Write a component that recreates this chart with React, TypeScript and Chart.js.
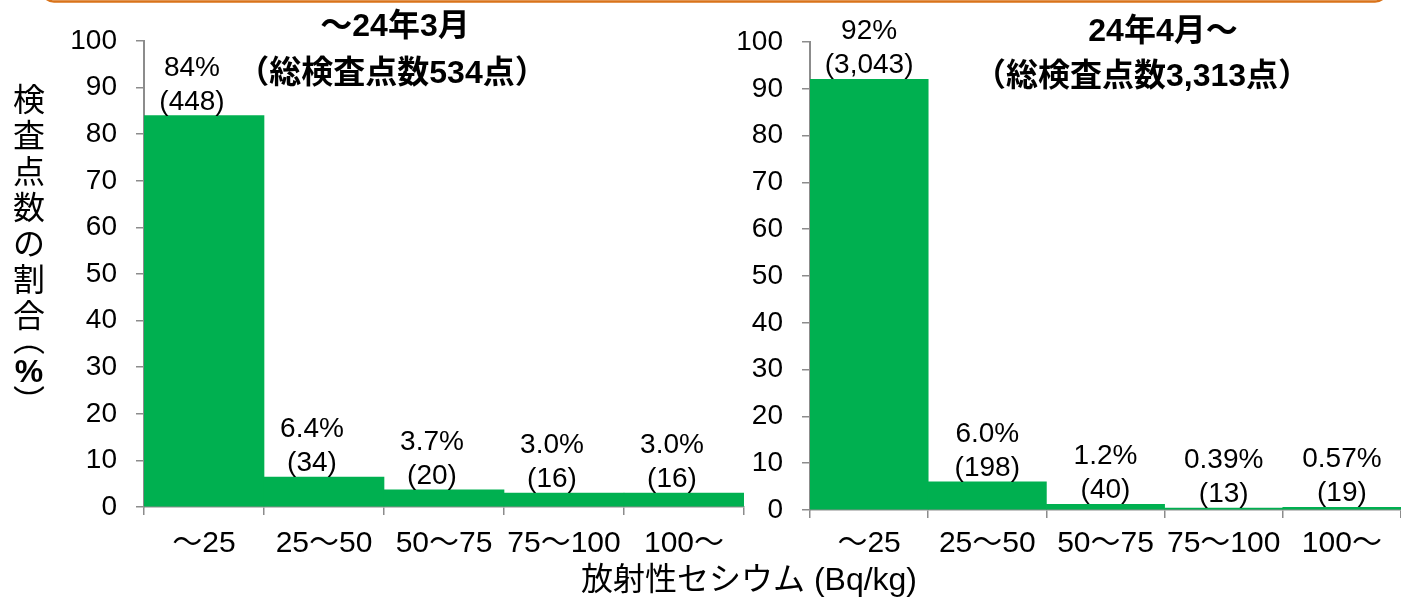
import React, { useEffect, useRef } from "react";
import { Chart, registerables } from "chart.js";

Chart.register(...registerables);

// ---- data ----
const categories = ["～25", "25～50", "50～75", "75～100", "100～"];

const beforePct = [84, 6.4, 3.7, 3.0, 3.0];
const beforeCounts = [448, 34, 20, 16, 16];
const beforeTitle = ["～24年3月", "（総検査点数534点）"];

const afterPct = [92, 6.0, 1.2, 0.39, 0.57];
const afterCounts = [3043, 198, 40, 13, 19];
const afterTitle = ["24年4月～", "（総検査点数3,313点）"];

const yAxisChars = ["検", "査", "点", "数", "の", "割", "合", "︵", "%", "︶"];
const xAxisTitle = "放射性セシウム (Bq/kg)";

// ---- styles ----
const FONT = "'Liberation Sans', 'Noto Sans CJK JP', sans-serif";
const GREEN = "#00B050";
const AXIS_GREY = "#8C8C8C";
const FRAME_ORANGE = "#D9731A";
const W = 1401;
const H = 598;

type TextItem = { text: string; x: number; y: number; font: string };

function textPlugin(id: string, items: TextItem[], frame: boolean) {
  return {
    id,
    afterDraw(chart: any) {
      const ctx: CanvasRenderingContext2D = chart.ctx;
      ctx.save();
      ctx.fillStyle = "#000";
      ctx.textAlign = "center";
      ctx.textBaseline = "middle";
      for (const it of items) {
        ctx.font = it.font;
        ctx.fillText(it.text, it.x, it.y);
      }
      if (frame) {
        ctx.strokeStyle = FRAME_ORANGE;
        ctx.lineWidth = 2.5;
        ctx.beginPath();
        ctx.roundRect(42, -40, 1345, 41.5, 12);
        ctx.stroke();
      }
      ctx.restore();
    },
  };
}

function barLabelPlugin(counts: number[], dx: number) {
  return {
    id: "barLabels",
    afterDatasetsDraw(chart: any) {
      const ctx: CanvasRenderingContext2D = chart.ctx;
      const meta = chart.getDatasetMeta(0);
      const values = chart.data.datasets[0].data as number[];
      ctx.save();
      ctx.font = `28px ${FONT}`;
      ctx.fillStyle = "#000";
      ctx.textAlign = "center";
      ctx.textBaseline = "alphabetic";
      meta.data.forEach((bar: any, i: number) => {
        const x = bar.x + dx;
        const base = bar.y - 6;
        ctx.fillText(`(${counts[i].toLocaleString("en-US")})`, x, base);
        ctx.fillText(`${values[i].toPrecision(2)}%`, x, base - 34);
      });
      ctx.restore();
    },
  };
}

type PanelLayout = {
  padLeft: number;
  padRight: number;
  padTop: number;
  yWidth: number;
  xHeight: number;
  xTickPad: number;
};

function makeConfig(
  values: number[],
  layout: PanelLayout,
  plugins: any[]
): any {
  return {
    type: "bar",
    data: {
      labels: categories,
      datasets: [
        {
          data: values,
          backgroundColor: GREEN,
          borderWidth: 0,
          barPercentage: 1,
          categoryPercentage: 1,
        },
      ],
    },
    options: {
      responsive: false,
      animation: false,
      devicePixelRatio: 1,
      layout: {
        padding: {
          left: layout.padLeft,
          right: layout.padRight,
          top: layout.padTop,
          bottom: 0,
        },
      },
      plugins: {
        legend: { display: false },
        title: { display: false },
        tooltip: { enabled: false },
      },
      scales: {
        x: {
          type: "category",
          offset: true,
          grid: {
            offset: true,
            drawOnChartArea: false,
            drawTicks: true,
            tickLength: 8,
            color: AXIS_GREY,
            lineWidth: 1.5,
          },
          border: { color: AXIS_GREY, width: 1.5 },
          ticks: {
            color: "#000",
            font: { family: FONT, size: 30 },
            padding: layout.xTickPad,
            maxRotation: 0,
            autoSkip: false,
          },
          afterFit: (scale: any) => {
            scale.height = layout.xHeight;
          },
        },
        y: {
          min: 0,
          max: 100,
          grid: {
            drawOnChartArea: false,
            drawTicks: true,
            tickLength: 8,
            color: AXIS_GREY,
            lineWidth: 1.5,
          },
          border: { color: AXIS_GREY, width: 2 },
          ticks: {
            stepSize: 10,
            color: "#000",
            font: { family: FONT, size: 28 },
            padding: 19,
          },
          afterFit: (scale: any) => {
            scale.width = layout.yWidth;
          },
        },
      },
    },
    plugins,
  };
}

export default function App() {
  const leftRef = useRef<HTMLCanvasElement>(null);
  const rightRef = useRef<HTMLCanvasElement>(null);

  useEffect(() => {
    const titleFont = `bold 32px ${FONT}`;
    const charFont = `32px ${FONT}`;

    // vertical y-axis caption, one glyph per row
    const charY = [102, 138, 174, 210, 246, 282, 318, 342, 373, 404];
    const yCaption: TextItem[] = yAxisChars.map((c, i) => ({
      text: c,
      x: 29,
      y: charY[i],
      font: c === "%" ? `bold 32px ${FONT}` : charFont,
    }));

    const leftItems: TextItem[] = [
      { text: beforeTitle[0], x: 395, y: 27, font: titleFont },
      { text: beforeTitle[1], x: 392, y: 74, font: titleFont },
      ...yCaption,
      { text: xAxisTitle, x: 749, y: 581, font: `32px ${FONT}` },
    ];
    const rightItems: TextItem[] = [
      { text: afterTitle[0], x: 1163, y: 32, font: titleFont },
      { text: afterTitle[1], x: 1142, y: 77, font: titleFont },
    ];

    const left = new Chart(
      leftRef.current!,
      makeConfig(
        beforePct,
        { padLeft: 0, padRight: W - 744, padTop: 41, yWidth: 144, xHeight: H - 507, xTickPad: 11 },
        [barLabelPlugin(beforeCounts, -12), textPlugin("leftText", leftItems, true)]
      )
    );
    const right = new Chart(
      rightRef.current!,
      makeConfig(
        afterPct,
        { padLeft: 700, padRight: 0, padTop: 42, yWidth: 110, xHeight: H - 510, xTickPad: 8 },
        [barLabelPlugin(afterCounts, 0), textPlugin("rightText", rightItems, false)]
      )
    );
    return () => {
      left.destroy();
      right.destroy();
    };
  }, []);

  const canvasStyle: React.CSSProperties = {
    position: "absolute",
    left: 0,
    top: 0,
    width: W,
    height: H,
  };

  return (
    <div
      style={{
        position: "absolute",
        left: 0,
        top: 0,
        width: W,
        height: H,
        background: "#fff",
        overflow: "hidden",
      }}
    >
      <canvas ref={leftRef} width={W} height={H} style={canvasStyle} />
      <canvas ref={rightRef} width={W} height={H} style={canvasStyle} />
    </div>
  );
}
